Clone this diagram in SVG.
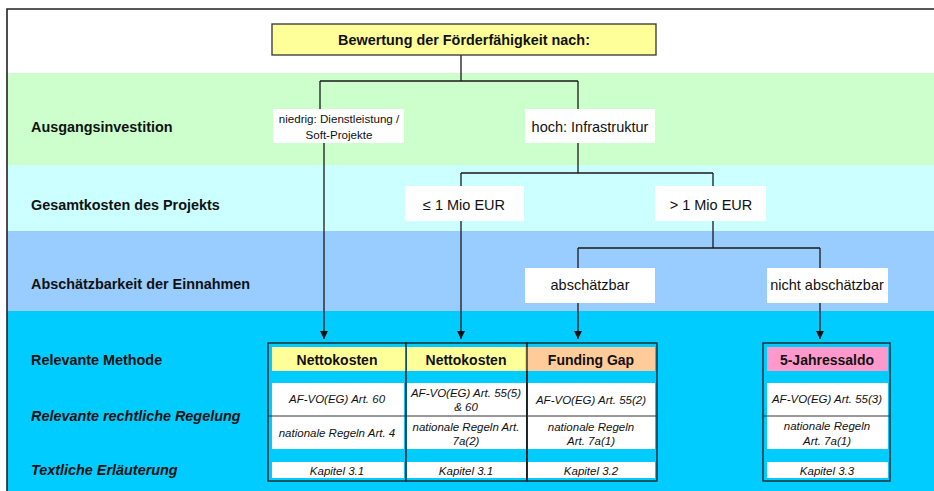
<svg xmlns="http://www.w3.org/2000/svg" width="934" height="491" viewBox="0 0 934 491">
<style>
text{font-family:"Liberation Sans",Arial,sans-serif;fill:#111;}
.lab{font-size:14.4px;font-weight:bold;}
.labi{font-size:14.4px;font-weight:bold;font-style:italic;}
.box{fill:#fff;stroke:none;}
.t13{font-size:14.5px;text-anchor:middle;}
.t11{font-size:11.6px;text-anchor:middle;}
.ttl{font-size:14.4px;font-weight:bold;text-anchor:middle;}
.hd{font-size:14px;font-weight:bold;text-anchor:middle;}
.it{font-size:11.5px;font-style:italic;text-anchor:middle;}
.col{fill:#00CCFF;stroke:#1a1a1a;stroke-width:1.3;}
.cell{fill:#fff;}
.div{stroke:#333;stroke-width:1;}
.con{fill:none;stroke:#1a1a1a;stroke-width:1.3;}
</style>
<defs>
<marker id="arr" viewBox="0 0 10 10" refX="10" refY="5" markerWidth="8" markerHeight="8" markerUnits="userSpaceOnUse" orient="auto">
<path d="M0,0 L10,5 L0,10 Z" fill="#111"/>
</marker>
</defs>
<g id="background">
<rect x="0" y="0" width="934" height="491" fill="#fff"/>
<rect x="7" y="9" width="927" height="64" fill="#fff"/>
<rect x="7" y="73" width="927" height="92" fill="#CCFFCC"/>
<rect x="7" y="165" width="927" height="66" fill="#CCFFFF"/>
<rect x="7" y="231" width="927" height="80" fill="#99CCFF"/>
<rect x="7" y="311" width="927" height="180" fill="#00CCFF"/>
<path d="M7,491 V9 H934" fill="none" stroke="#222" stroke-width="1.6"/>
</g>
<g id="row-labels">
<text class="lab" x="31" y="132">Ausgangsinvestition</text>
<text class="lab" x="31" y="210">Gesamtkosten des Projekts</text>
<text class="lab" x="31" y="289">Abschätzbarkeit der Einnahmen</text>
<text class="lab" x="31" y="365">Relevante Methode</text>
<text class="labi" x="31" y="421">Relevante rechtliche Regelung</text>
<text class="labi" x="31" y="475">Textliche Erläuterung</text>
</g>
<g id="connectors">
<path class="con" d="M461,55 V81 M320,81 H578 M320,81 V109 M578,81 V109"/>
<path class="con" d="M578,143 V173 M461,173 H713 M461,173 V186 M713,173 V186"/>
<path class="con" d="M713,221 V248 M578,248 H820 M578,248 V270 M820,248 V270"/>
<path class="con" d="M324,143 V339" marker-end="url(#arr)"/>
<path class="con" d="M461,221 V339" marker-end="url(#arr)"/>
<path class="con" d="M578,303 V339" marker-end="url(#arr)"/>
<path class="con" d="M820,303 V339" marker-end="url(#arr)"/>
</g>
<g id="title">
<rect x="272" y="24" width="384" height="31" fill="#FFFF99" stroke="#333" stroke-width="1.3"/>
<text class="ttl" x="464" y="45">Bewertung der Förderfähigkeit nach:</text>
</g>
<g id="niedrig">
<rect class="box" x="273" y="109" width="131" height="34"/>
<text class="t11" x="339" y="123">niedrig: Dienstleistung /</text>
<text class="t11" x="339" y="139">Soft-Projekte</text>
</g>
<g id="hoch">
<rect class="box" x="525" y="109" width="130" height="34"/>
<text class="t13" x="590" y="132">hoch: Infrastruktur</text>
</g>
<g id="le1mio">
<rect class="box" x="405" y="186" width="119" height="35"/>
<text class="t13" x="464" y="210">≤ 1 Mio EUR</text>
</g>
<g id="gt1mio">
<rect class="box" x="655" y="186" width="111" height="35"/>
<text class="t13" x="711" y="210">&gt; 1 Mio EUR</text>
</g>
<g id="abschaetzbar">
<rect class="box" x="525" y="268" width="130" height="35"/>
<text class="t13" x="590" y="290">abschätzbar</text>
</g>
<g id="nicht-abschaetzbar">
<rect class="box" x="767" y="268" width="121" height="35"/>
<text class="t13" x="827" y="290">nicht abschätzbar</text>
</g>
<g id="col-nettokosten-1">
<rect class="col" x="268" y="343" width="138" height="138"/>
<rect x="272" y="347" width="134" height="24" fill="#FFFF99"/>
<rect class="cell" x="272" y="383" width="132" height="66"/>
<rect class="cell" x="272" y="462" width="132" height="16"/>
<line class="div" x1="268" y1="416" x2="406" y2="416"/>
<text class="hd" x="337" y="365">Nettokosten</text>
<text class="it" x="337" y="403">AF-VO(EG) Art. 60</text>
<text class="it" x="337" y="437">nationale Regeln Art. 4</text>
<text class="it" x="337" y="475">Kapitel 3.1</text>
</g>
<g id="col-nettokosten-2">
<rect class="col" x="406" y="343" width="121" height="138"/>
<rect x="407" y="347" width="118" height="24" fill="#FFFF99"/>
<rect class="cell" x="407" y="383" width="119" height="66"/>
<rect class="cell" x="407" y="462" width="119" height="16"/>
<line class="div" x1="406" y1="416" x2="527" y2="416"/>
<text class="hd" x="466" y="365">Nettokosten</text>
<text class="it" x="466" y="397">AF-VO(EG) Art. 55(5)</text>
<text class="it" x="466" y="411">&amp; 60</text>
<text class="it" x="466" y="431">nationale Regeln Art.</text>
<text class="it" x="466" y="445">7a(2)</text>
<text class="it" x="466" y="475">Kapitel 3.1</text>
</g>
<g id="col-funding-gap">
<rect class="col" x="527" y="343" width="130" height="138"/>
<rect x="525" y="347" width="130" height="24" fill="#FFCC99"/>
<line x1="527" y1="343" x2="527" y2="481" stroke="#1a1a1a" stroke-width="1.3"/>
<rect class="cell" x="528" y="383" width="127" height="66"/>
<rect class="cell" x="528" y="462" width="127" height="16"/>
<line class="div" x1="527" y1="416" x2="657" y2="416"/>
<text class="hd" x="591" y="365">Funding Gap</text>
<text class="it" x="591" y="404">AF-VO(EG) Art. 55(2)</text>
<text class="it" x="591" y="431">nationale Regeln</text>
<text class="it" x="591" y="445">Art. 7a(1)</text>
<text class="it" x="591" y="475">Kapitel 3.2</text>
</g>
<g id="col-5-jahressaldo">
<rect class="col" x="763" y="343" width="127" height="138"/>
<rect x="767" y="347" width="121" height="24" fill="#FF99CC"/>
<rect class="cell" x="767" y="383" width="121" height="66"/>
<rect class="cell" x="767" y="462" width="121" height="16"/>
<line class="div" x1="763" y1="416" x2="890" y2="416"/>
<text class="hd" x="827" y="365">5-Jahressaldo</text>
<text class="it" x="827" y="403">AF-VO(EG) Art. 55(3)</text>
<text class="it" x="827" y="430">nationale Regeln</text>
<text class="it" x="827" y="445">Art. 7a(1)</text>
<text class="it" x="827" y="475">Kapitel 3.3</text>
</g>
</svg>
